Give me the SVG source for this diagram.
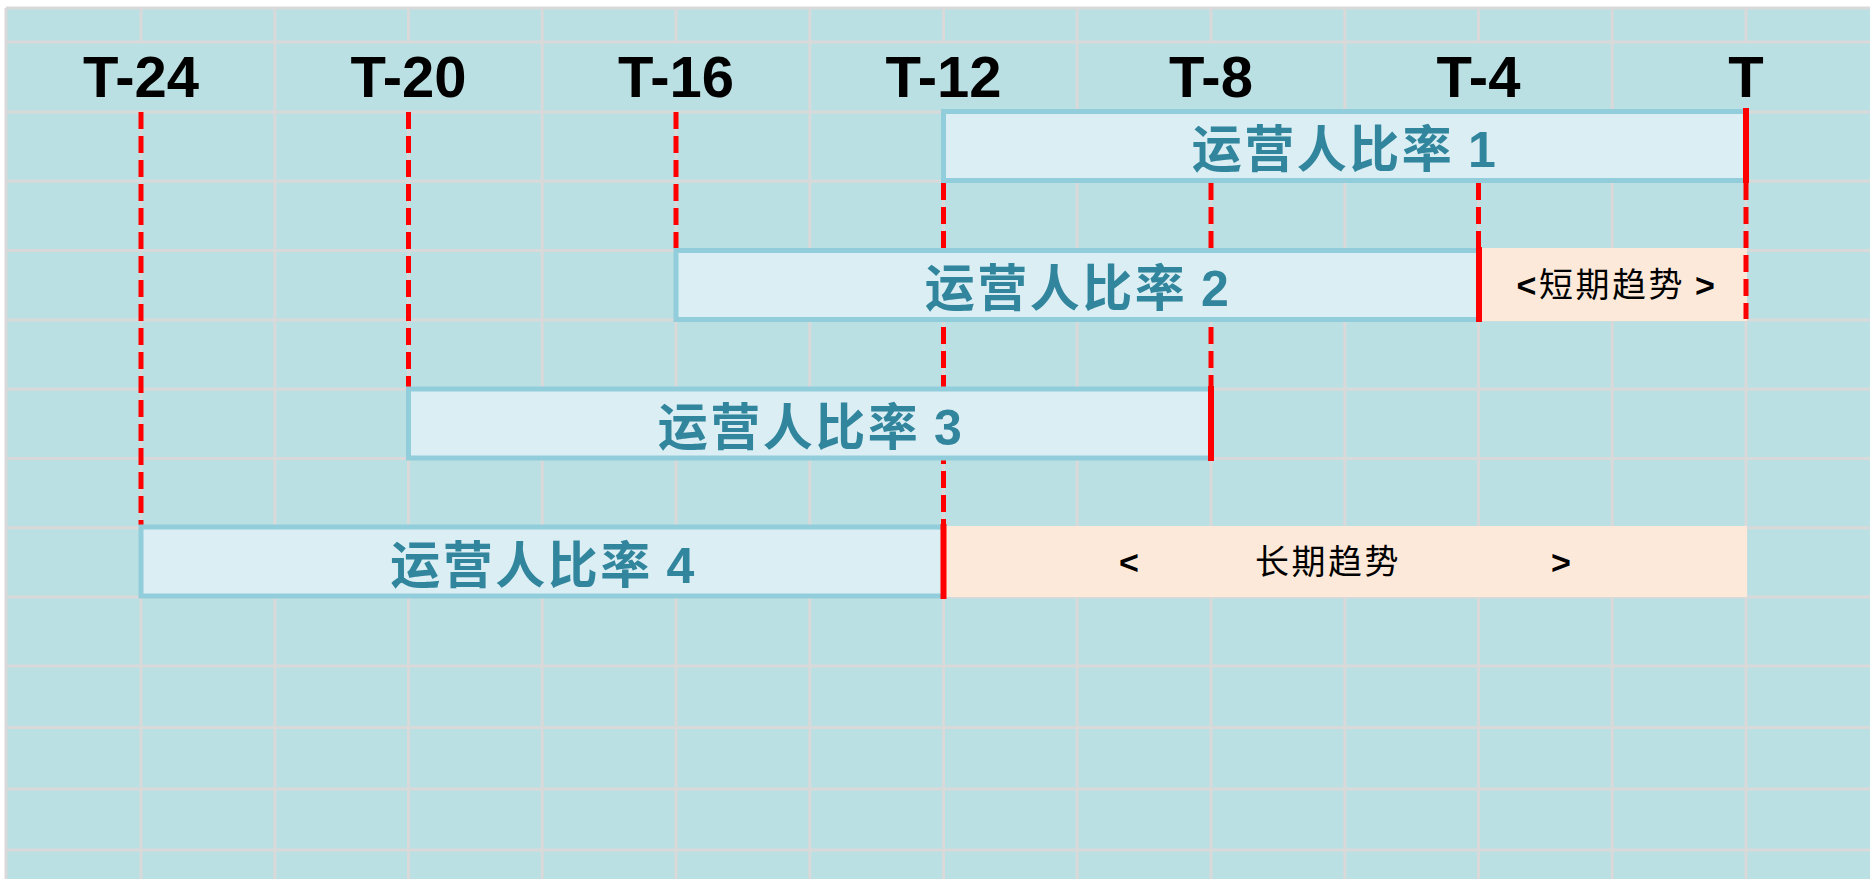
<svg xmlns="http://www.w3.org/2000/svg" width="1870" height="879" viewBox="0 0 1870 879">
<style>
.grid line{stroke:#D9D9D9;stroke-width:3}
.hdr{font-family:"Liberation Sans",Arial,sans-serif;font-weight:bold;font-size:58px;fill:#000;text-anchor:middle}
.box{fill:#DAEEF3;stroke:#92CDDC;stroke-width:5}
.lbl{font-family:"Noto Sans CJK SC","Noto Sans CJK TC",sans-serif;font-weight:bold;font-size:50px;fill:#31859C;text-anchor:middle;letter-spacing:2.5px}
.num{font-family:"Liberation Sans",Arial,sans-serif;font-weight:bold}
.mark{stroke:#FF0000;stroke-width:6}
.trend{fill:#FDE9D9}
.tt{font-family:"Noto Sans CJK SC",sans-serif;font-size:34px;fill:#000;letter-spacing:2.5px}
.br{font-family:"Liberation Sans",Arial,sans-serif;font-weight:bold}
.dash{stroke:#FF0000;stroke-width:5;stroke-dasharray:17 7}
</style>
<rect x="0" y="0" width="1870" height="879" fill="#FFFFFF"/>
<rect x="7" y="8" width="1863" height="871" fill="#BBE0E3"/>
<g class="grid" id="grid">
<line x1="6" y1="8" x2="1870" y2="8"/>
<line x1="6" y1="8" x2="6" y2="879"/>
<line x1="6" y1="42" x2="1870" y2="42"/>
<line x1="6" y1="112" x2="1870" y2="112"/>
<line x1="6" y1="181.3" x2="1870" y2="181.3"/>
<line x1="6" y1="250.6" x2="1870" y2="250.6"/>
<line x1="6" y1="319.9" x2="1870" y2="319.9"/>
<line x1="6" y1="389.2" x2="1870" y2="389.2"/>
<line x1="6" y1="458.5" x2="1870" y2="458.5"/>
<line x1="6" y1="527.8" x2="1870" y2="527.8"/>
<line x1="6" y1="597.1" x2="1870" y2="597.1"/>
<line x1="6" y1="666" x2="1870" y2="666"/>
<line x1="6" y1="727.5" x2="1870" y2="727.5"/>
<line x1="6" y1="789" x2="1870" y2="789"/>
<line x1="6" y1="850" x2="1870" y2="850"/>
<line x1="141" y1="8" x2="141" y2="42"/><line x1="141" y1="112" x2="141" y2="879"/>
<line x1="274.75" y1="8" x2="274.75" y2="879"/>
<line x1="408.5" y1="8" x2="408.5" y2="42"/><line x1="408.5" y1="112" x2="408.5" y2="879"/>
<line x1="542.25" y1="8" x2="542.25" y2="879"/>
<line x1="676" y1="8" x2="676" y2="42"/><line x1="676" y1="112" x2="676" y2="879"/>
<line x1="809.75" y1="8" x2="809.75" y2="879"/>
<line x1="943.5" y1="8" x2="943.5" y2="42"/><line x1="943.5" y1="112" x2="943.5" y2="879"/>
<line x1="1077.25" y1="8" x2="1077.25" y2="879"/>
<line x1="1211" y1="8" x2="1211" y2="42"/><line x1="1211" y1="112" x2="1211" y2="879"/>
<line x1="1344.75" y1="8" x2="1344.75" y2="879"/>
<line x1="1478.5" y1="8" x2="1478.5" y2="42"/><line x1="1478.5" y1="112" x2="1478.5" y2="879"/>
<line x1="1612.25" y1="8" x2="1612.25" y2="879"/>
<line x1="1746" y1="8" x2="1746" y2="42"/><line x1="1746" y1="112" x2="1746" y2="879"/>
</g>
<g id="header">
<text class="hdr" x="141" y="97">T-24</text>
<text class="hdr" x="408.5" y="97">T-20</text>
<text class="hdr" x="676" y="97">T-16</text>
<text class="hdr" x="943.5" y="97">T-12</text>
<text class="hdr" x="1211" y="97">T-8</text>
<text class="hdr" x="1478.5" y="97">T-4</text>
<text class="hdr" x="1746" y="97">T</text>
</g>
<g id="short-trend">
<rect class="trend" x="1481" y="248" width="266" height="73"/>
<text class="tt" x="1617" y="297" text-anchor="middle"><tspan class="br">&lt;</tspan>短期趋势 <tspan class="br">&gt;</tspan></text>
</g>
<g id="long-trend">
<rect class="trend" x="945" y="526" width="802" height="71"/>
<text class="tt" y="574"><tspan class="br" x="1119">&lt;</tspan><tspan x="1255">长期趋势</tspan><tspan class="br" x="1551">&gt;</tspan></text>
</g>
<g id="connectors">
<line class="dash" x1="141" y1="112" x2="141" y2="525"/>
<line class="dash" x1="408.5" y1="112" x2="408.5" y2="387"/>
<line class="dash" x1="676" y1="112" x2="676" y2="248"/>
<line class="dash" x1="943.5" y1="183" x2="943.5" y2="525"/>
<line class="dash" x1="1211" y1="183" x2="1211" y2="387"/>
<line class="dash" x1="1478.5" y1="183" x2="1478.5" y2="248"/>
<line class="dash" x1="1746" y1="183" x2="1746" y2="319"/>
</g>
<g id="ratio1">
<rect class="box" x="943.5" y="111.5" width="802.5" height="69"/>
<line class="mark" x1="1746" y1="108" x2="1746" y2="183"/>
<text class="lbl" x="1345" y="167">运营人比率 <tspan class="num">1</tspan></text>
</g>
<g id="ratio2">
<rect class="box" x="676" y="250.5" width="802.5" height="69"/>
<line class="mark" x1="1479" y1="247" x2="1479" y2="322"/>
<text class="lbl" x="1078" y="306">运营人比率 <tspan class="num">2</tspan></text>
</g>
<g id="ratio3">
<rect class="box" x="408.5" y="389" width="802.5" height="69"/>
<line class="mark" x1="1211" y1="386" x2="1211" y2="461"/>
<text class="lbl" x="811" y="444.5">运营人比率 <tspan class="num">3</tspan></text>
</g>
<g id="ratio4">
<rect class="box" x="141" y="527" width="802.5" height="69"/>
<line class="mark" x1="943.5" y1="524" x2="943.5" y2="599"/>
<text class="lbl" x="543.5" y="582.5">运营人比率 <tspan class="num">4</tspan></text>
</g>
</svg>
